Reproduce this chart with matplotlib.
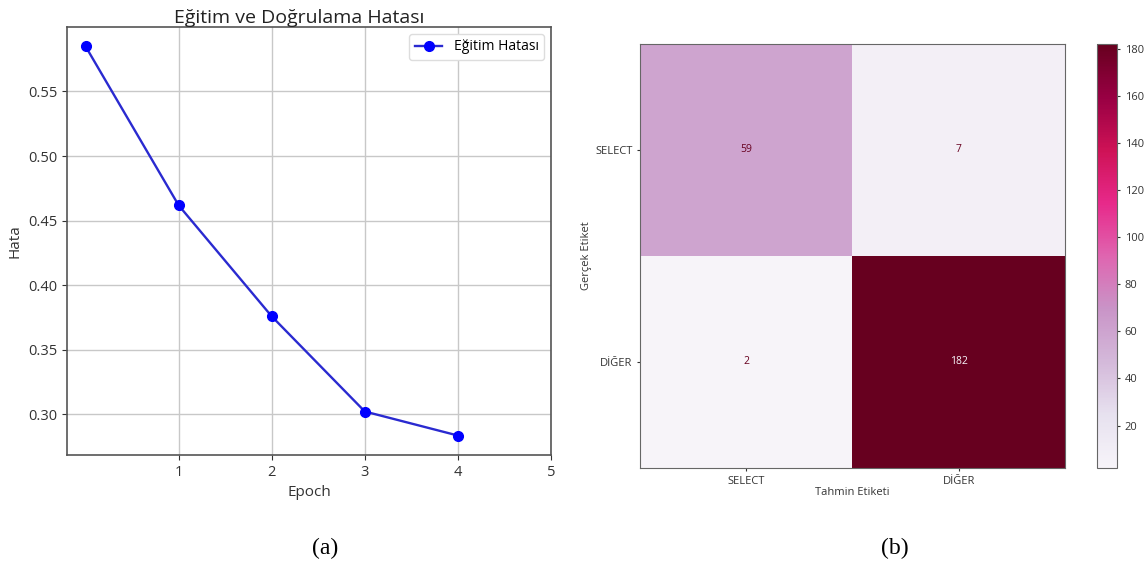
import matplotlib
matplotlib.use("Agg")
import matplotlib.pyplot as plt
import numpy as np

# ---- data ----
epochs = [0, 1, 2, 3, 4]
train_loss = [0.5848, 0.4618, 0.3759, 0.3023, 0.2837]
x_ticks = [1, 2, 3, 4, 5]

class_labels = ["SELECT", "DİĞER"]
cm_values = [[59, 7],
             [2, 182]]
cbar_ticks = [20, 40, 60, 80, 100, 120, 140, 160, 180]

plt.rcParams['font.family'] = ['Open Sans', 'DejaVu Sans']

fig = plt.figure(figsize=(11.47, 5.69), dpi=100)
W, H = 1147, 569

def ax_rect(x0, y0, x1, y1):
    return [x0 / W, 1 - y1 / H, (x1 - x0) / W, (y1 - y0) / H]

# ---- left: loss curve ----
ax1 = fig.add_axes(ax_rect(67, 27, 551, 455))
ax1.plot(epochs, train_loss, color='#2a2ad0', marker='o', markersize=7,
         markerfacecolor='#0000ff', markeredgecolor='#0000ff', linewidth=1.7,
         label='Eğitim Hatası')
ax1.set_xlim(-0.2, 5)
ax1.set_xticks(x_ticks)
ax1.set_yticks([0.30, 0.35, 0.40, 0.45, 0.50, 0.55])
ax1.set_yticklabels(['0.30', '0.35', '0.40', '0.45', '0.50', '0.55'])
ax1.grid(True, color='#c8c8c8', linewidth=1.0)
ax1.tick_params(labelsize=10.5, colors='#333333')
for s in ax1.spines.values():
    s.set_color('#555555')
    s.set_linewidth(1.2)
ax1.set_title('Eğitim ve Doğrulama Hatası', fontsize=14, color='#222222', pad=3,
              x=0.479)
ax1.set_xlabel('Epoch', fontsize=11, color='#333333', labelpad=4)
ax1.set_ylabel('Hata', fontsize=11, color='#333333', labelpad=4)
leg = ax1.legend(loc='upper right', fontsize=10, framealpha=1.0, edgecolor='#dddddd')

# ---- right: confusion matrix ----
ax2 = fig.add_axes(ax_rect(640, 44, 1065, 468))
cm = np.array(cm_values)
cmap = plt.get_cmap('PuRd')
im = ax2.imshow(cm, cmap=cmap, vmin=cm.min(), vmax=cm.max(), aspect='auto')
for i in range(2):
    for j in range(2):
        v = cm[i, j]
        col = cmap(0.0) if v > (cm.max() + cm.min()) / 2 else cmap(1.0)
        ax2.text(j, i, str(v), ha='center', va='center', fontsize=7.5, color=col)
ax2.set_xticks(range(2))
ax2.set_xticklabels(class_labels)
ax2.set_yticks(range(2))
ax2.set_yticklabels(class_labels)
ax2.tick_params(labelsize=8, colors='#333333', length=2)
ax2.set_xlabel('Tahmin Etiketi', fontsize=8, color='#333333', labelpad=0)
ax2.set_ylabel('Gerçek Etiket', fontsize=8, color='#333333', labelpad=2)
for s in ax2.spines.values():
    s.set_color('#666666')

cax = fig.add_axes(ax_rect(1097, 44, 1117, 468))
cb = fig.colorbar(im, cax=cax, ticks=cbar_ticks)
cb.ax.tick_params(labelsize=8, colors='#333333', length=2)
cb.outline.set_edgecolor('#666666')

# ---- captions ----
fig.text(325 / W, 1 - 548 / H, '(a)', family='Liberation Serif', fontsize=17,
         ha='center', va='center')
fig.text(895 / W, 1 - 548 / H, '(b)', family='Liberation Serif', fontsize=17,
         ha='center', va='center')

fig.savefig('out.png', dpi=100)
